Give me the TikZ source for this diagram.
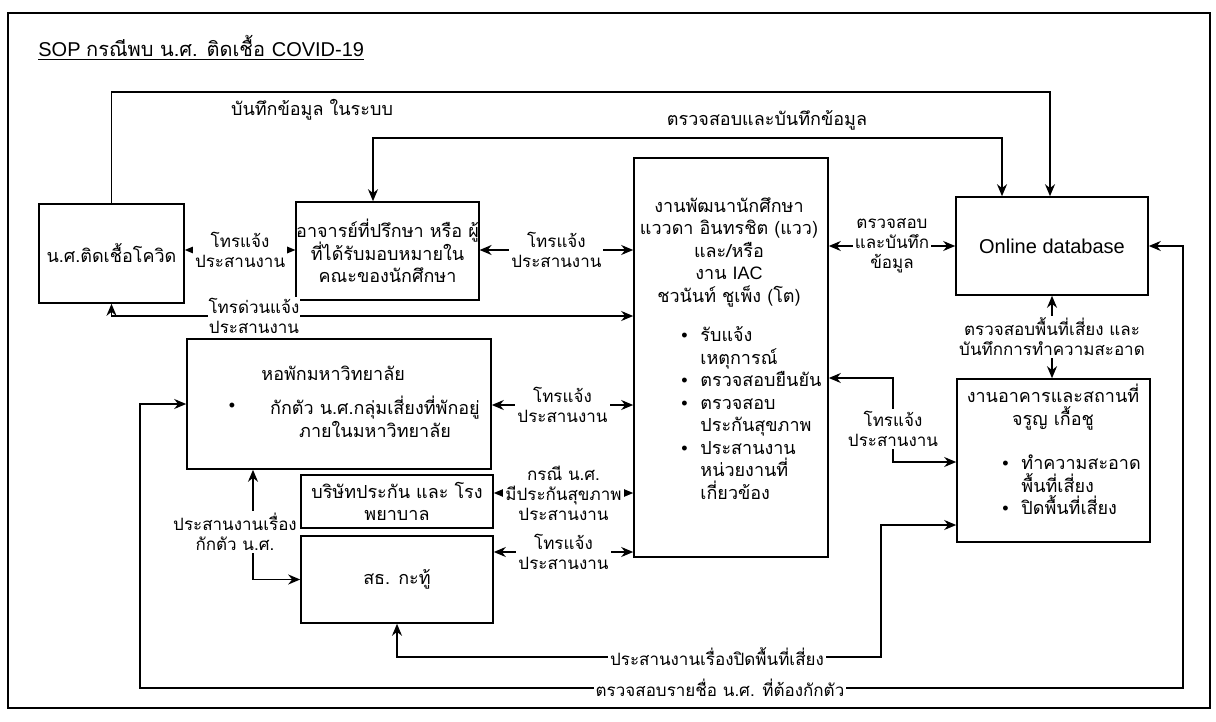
\documentclass[tikz,border=0pt]{standalone}
\usepackage{fontspec}
\setmainfont{Liberation Sans}
\newfontfamily\thf[Script=Thai]{Loma}
\newfontfamily\laf{Liberation Sans}
\usetikzlibrary{arrows.meta}
\newcommand\bul{\makebox[10.5pt][l]{\hspace{1pt}{\laf\textbullet}}}
\newcommand\ind{\hspace*{10.5pt}}
\newcommand\boxfont{\thf\fontsize{9}{11.25}\selectfont\lineskiplimit=-50pt}
\newcommand\lblfont{\thf\fontsize{8.5}{10}\selectfont\lineskiplimit=-50pt}
\tikzset{
  bx/.style={draw, line width=0.8pt, inner sep=0pt, align=center, font=\boxfont},
  tx/.style={inner sep=0pt, align=center, font=\boxfont},
  lb/.style={fill=white, inner sep=1pt, align=center, font=\lblfont},
  ln/.style={line width=0.8pt},
  ar/.style={ln, -{Stealth[length=6pt,width=5pt]}},
  da/.style={ln, {Stealth[length=6pt,width=5pt]}-{Stealth[length=6pt,width=5pt]}},
  frm/.style={line width=0.8pt}
}
\begin{document}
\begin{tikzpicture}[x=0.5pt,y=-0.5pt]
\useasboundingbox (0,0) rectangle (1216,722);
\draw[frm] (8,13) rectangle (1210,708);
\node[tx, anchor=west, font=\fontsize{10}{12}\selectfont] (title) at (38,48)
  {\underline{{\laf SOP }{\thf กรณีพบ น.ศ. ติดเชื้อ }{\laf COVID-19}}};

% boxes
\node[bx, minimum width=72.5pt, minimum height=49.5pt] (ns) at (111.5,253.5) {น.ศ.ติดเชื้อโควิด};
\node[bx, minimum width=89.5pt, minimum height=49pt] (adv) at (387.5,251) {อาจารย์ที่ปรึกษา หรือ ผู้\\ที่ได้รับมอบหมายใน\\คณะของนักศึกษา};
\node[bx, minimum width=97pt, minimum height=199.5pt] (ctr) at (731,357.5) {};
\node[bx, minimum width=96pt, minimum height=49pt, font=\laf\fontsize{10}{12}\selectfont] (db) at (1052,246) {Online database};
\node[bx, minimum width=152pt, minimum height=65pt] (dorm) at (339,404) {};
\node[bx, minimum width=96pt, minimum height=26.5pt] (ins) at (397,501.5) {บริษัทประกัน และ โรง\\พยาบาล};
\node[bx, minimum width=96pt, minimum height=43.5pt] (pol) at (397,579.5) {สธ. กะทู้};
\node[bx, minimum width=96.5pt, minimum height=81.5pt] (bld) at (1053.5,460.5) {};

% texts inside boxes
\node[tx] (ctrh) at (729,252) {งานพัฒนานักศึกษา\\แววดา อินทรชิต (แวว)\\และ/หรือ\\งาน {\laf IAC}\\ชวนันท์ ชูเพ็ง (โต)};
\node[tx, align=left, anchor=west] (ctrb) at (679,413) {\bul รับแจ้ง\\\ind เหตุการณ์\\\bul ตรวจสอบยืนยัน\\\bul ตรวจสอบ\\\ind ประกันสุขภาพ\\\bul ประสานงาน\\\ind หน่วยงานที่\\\ind เกี่ยวข้อง};
\node[tx, anchor=west] (dormh) at (261,373) {หอพักมหาวิทยาลัย};
\node[tx] (dormd) at (232,407) {\laf\textbullet};
\node[tx] (dormb) at (375,417) {กักตัว น.ศ.กลุ่มเสี่ยงที่พักอยู่\\ภายในมหาวิทยาลัย};
\node[tx] (bldh) at (1053,407) {งานอาคารและสถานที่\\จรูญ เกื้อชู};
\node[tx, align=left, anchor=west] (bldb) at (1000,485) {\bul ทำความสะอาด\\\ind พื้นที่เสี่ยง\\\bul ปิดพื้นที่เสี่ยง};

% top loops
\coordinate (k1) at (1050,92);
\draw[ar] (ns.north) |- (k1) -- (k1 |- db.north);
\node[tx] (l1) at (312,110) {บันทึกข้อมูล ในระบบ};
\coordinate (k2) at (373,138);
\coordinate (k3) at (1002,138);
\draw[da] (k2 |- adv.north) -- (k2) -- (k3) -- (k3 |- db.north);
\node[tx] (l2) at (767,120) {ตรวจสอบและบันทึกข้อมูล};

% left connectors
\coordinate (ya) at (0,250);
\draw[da] (ns.east |- ya) -- node[lb] (l3) {โทรแจ้ง\\ประสานงาน} (adv.west |- ya);
\draw[da] (adv.east |- ya) -- node[lb] (l4) {โทรแจ้ง\\ประสานงาน} (ctr.west |- ya);
\coordinate (yb) at (0,316);
\draw[da] (ns.south) |- (ctr.west |- yb);
\node[lb, inner sep=0.5pt] (l5) at (254,316) {โทรด่วนแจ้ง\\ประสานงาน};
\coordinate (yc) at (0,405);
\draw[da] (dorm.east |- yc) -- node[lb] (l6) {โทรแจ้ง\\ประสานงาน} (ctr.west |- yc);
\coordinate (yd) at (0,493);
\draw[da] (ins.east |- yd) -- node[lb] (l7) {กรณี น.ศ.\\มีประกันสุขภาพ\\ประสานงาน} (ctr.west |- yd);
\coordinate (ye) at (0,552);
\draw[da] (pol.east |- ye) -- node[lb] (l8) {โทรแจ้ง\\ประสานงาน} (ctr.west |- ye);
\coordinate (xf) at (253,0);
\draw[da] (dorm.south -| xf) |- (pol.west);
\node[lb] (l9) at (235,532) {ประสานงานเรื่อง\\กักตัว น.ศ.};

% bottom loops
\coordinate (g1) at (140,688);
\coordinate (g2) at (1183,688);
\draw[da] (dorm.west) -| (g1) -- (g2) |- (db.east);
\node[lb] (l10) at (720,688) {ตรวจสอบรายชื่อ น.ศ. ที่ต้องกักตัว};
\coordinate (h1) at (881,657);
\coordinate (h2) at (881,525);
\draw[da] (pol.south) |- (h1) -- (h2) -- (bld.west |- h2);
\node[lb] (l11) at (717,657) {ประสานงานเรื่องปิดพื้นที่เสี่ยง};

% right connectors
\coordinate (m1) at (893,378);
\coordinate (m2) at (893,462);
\draw[da] (ctr.east |- m1) -- (m1) -- (m2) -- (bld.west |- m2);
\node[lb] (l12) at (893,429) {โทรแจ้ง\\ประสานงาน};
\coordinate (n1) at (1052,0);
\draw[da] (db.south -| n1) -- node[lb] (l13) {ตรวจสอบพื้นที่เสี่ยง และ\\บันทึกการทำความสะอาด} (bld.north -| n1);
\draw[da] (ctr.east |- db.west) -- node[lb] (l14) {ตรวจสอบ\\และบันทึก\\ข้อมูล} (db.west);
\end{tikzpicture}
\end{document}
